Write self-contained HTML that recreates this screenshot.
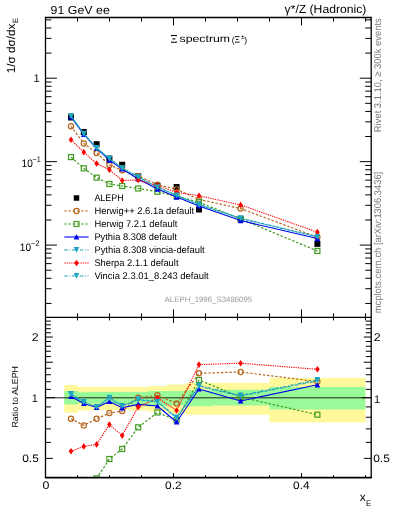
<!DOCTYPE html>
<html><head><meta charset="utf-8"><style>
html,body{margin:0;padding:0;background:#fff;width:393px;height:512px;overflow:hidden;}
body{position:relative;font-family:"Liberation Sans",sans-serif;}
svg text{text-rendering:geometricPrecision;}
</style></head><body>
<svg width="393" height="512" viewBox="0 0 393 512" style="position:absolute;left:0;top:0;will-change:transform">
<defs><clipPath id="cm"><rect x="45.5" y="17.5" width="325.7" height="299.9"/></clipPath><clipPath id="cr"><rect x="45.5" y="317.4" width="325.7" height="160.3"/></clipPath></defs>
<path d="M64.2 385.1H77.9V387.0H90.2V387.1H103.0V387.1H115.8V387.1H128.6V387.1H147.8V385.9H167.0V384.4H186.2V383.0H211.8V383.0H269.4V377.9H365.4V422.6H269.4V414.7H211.8V414.8H186.2V413.7H167.0V411.5H147.8V410.5H128.6V410.0H115.8V410.0H103.0V410.0H90.2V410.4H77.9V412.8H64.2Z" fill="#fff99b"/>
<path d="M64.2 390.9H77.9V392.2H90.2V392.0H103.0V392.0H115.8V392.0H128.6V392.0H147.8V391.0H167.0V390.9H186.2V390.3H211.8V389.7H269.4V387.1H365.4V409.6H269.4V405.4H211.8V406.3H186.2V405.6H167.0V406.3H147.8V404.9H128.6V403.4H115.8V403.4H103.0V403.4H90.2V403.3H77.9V404.6H64.2Z" fill="#98fa98"/>
<line x1="45.5" y1="397.8" x2="371.2" y2="397.8" stroke="#222" stroke-width="1"/>
<g clip-path="url(#cm)">
<rect x="68.00" y="114.50" width="6" height="6" fill="#000"/>
<rect x="80.80" y="129.00" width="6" height="6" fill="#000"/>
<rect x="93.60" y="141.20" width="6" height="6" fill="#000"/>
<rect x="106.40" y="155.60" width="6" height="6" fill="#000"/>
<rect x="119.20" y="161.75" width="6" height="6" fill="#000"/>
<rect x="135.20" y="173.20" width="6" height="6" fill="#000"/>
<rect x="154.40" y="182.60" width="6" height="6" fill="#000"/>
<rect x="173.60" y="184.00" width="6" height="6" fill="#000"/>
<rect x="196.00" y="206.50" width="6" height="6" fill="#000"/>
<rect x="237.60" y="216.20" width="6" height="6" fill="#000"/>
<rect x="314.40" y="240.90" width="6" height="6" fill="#000"/>
</g>
<g clip-path="url(#cm)">
<polyline points="71.00,126.20 83.80,143.47 96.60,152.94 109.40,164.94 122.20,170.30 138.20,176.20 157.40,184.61 176.60,189.36 199.00,199.39 240.60,208.56 317.40,237.23" fill="none" stroke="#b5651d" stroke-width="1.2" stroke-dasharray="2.4 1.8" stroke-linejoin="round"/>
<circle cx="71.00" cy="126.20" r="2.6" fill="none" stroke="#b5651d" stroke-width="1.2"/>
<circle cx="83.80" cy="143.47" r="2.6" fill="none" stroke="#b5651d" stroke-width="1.2"/>
<circle cx="96.60" cy="152.94" r="2.6" fill="none" stroke="#b5651d" stroke-width="1.2"/>
<circle cx="109.40" cy="164.94" r="2.6" fill="none" stroke="#b5651d" stroke-width="1.2"/>
<circle cx="122.20" cy="170.30" r="2.6" fill="none" stroke="#b5651d" stroke-width="1.2"/>
<circle cx="138.20" cy="176.20" r="2.6" fill="none" stroke="#b5651d" stroke-width="1.2"/>
<circle cx="157.40" cy="184.61" r="2.6" fill="none" stroke="#b5651d" stroke-width="1.2"/>
<circle cx="176.60" cy="189.36" r="2.6" fill="none" stroke="#b5651d" stroke-width="1.2"/>
<circle cx="199.00" cy="199.39" r="2.6" fill="none" stroke="#b5651d" stroke-width="1.2"/>
<circle cx="240.60" cy="208.56" r="2.6" fill="none" stroke="#b5651d" stroke-width="1.2"/>
<circle cx="317.40" cy="237.23" r="2.6" fill="none" stroke="#b5651d" stroke-width="1.2"/>
</g>
<g clip-path="url(#cm)">
<polyline points="71.00,157.10 83.80,168.30 96.60,177.60 109.40,183.99 122.20,186.00 138.20,188.46 157.40,191.73 176.60,196.24 199.00,202.17 240.60,218.91 317.40,250.94" fill="none" stroke="#3f9b1f" stroke-width="1.2" stroke-dasharray="2.4 1.8" stroke-linejoin="round"/>
<rect x="68.50" y="154.60" width="5" height="5" fill="none" stroke="#3f9b1f" stroke-width="1.2"/>
<rect x="81.30" y="165.80" width="5" height="5" fill="none" stroke="#3f9b1f" stroke-width="1.2"/>
<rect x="94.10" y="175.10" width="5" height="5" fill="none" stroke="#3f9b1f" stroke-width="1.2"/>
<rect x="106.90" y="181.49" width="5" height="5" fill="none" stroke="#3f9b1f" stroke-width="1.2"/>
<rect x="119.70" y="183.50" width="5" height="5" fill="none" stroke="#3f9b1f" stroke-width="1.2"/>
<rect x="135.70" y="185.96" width="5" height="5" fill="none" stroke="#3f9b1f" stroke-width="1.2"/>
<rect x="154.90" y="189.23" width="5" height="5" fill="none" stroke="#3f9b1f" stroke-width="1.2"/>
<rect x="174.10" y="193.74" width="5" height="5" fill="none" stroke="#3f9b1f" stroke-width="1.2"/>
<rect x="196.50" y="199.67" width="5" height="5" fill="none" stroke="#3f9b1f" stroke-width="1.2"/>
<rect x="238.10" y="216.41" width="5" height="5" fill="none" stroke="#3f9b1f" stroke-width="1.2"/>
<rect x="314.90" y="248.44" width="5" height="5" fill="none" stroke="#3f9b1f" stroke-width="1.2"/>
</g>
<g clip-path="url(#cm)">
<polyline points="71.00,117.00 83.80,134.40 96.60,148.26 109.40,160.17 122.20,168.93 138.20,178.97 157.40,189.04 176.60,197.06 199.00,205.90 240.60,220.57 317.40,238.56" fill="none" stroke="#0000ee" stroke-width="1.1" stroke-linejoin="round"/>
<path d="M71.00 113.90L73.80 119.60L68.20 119.60Z" fill="#0000ee"/>
<path d="M83.80 131.30L86.60 137.00L81.00 137.00Z" fill="#0000ee"/>
<path d="M96.60 145.16L99.40 150.86L93.80 150.86Z" fill="#0000ee"/>
<path d="M109.40 157.07L112.20 162.77L106.60 162.77Z" fill="#0000ee"/>
<path d="M122.20 165.83L125.00 171.53L119.40 171.53Z" fill="#0000ee"/>
<path d="M138.20 175.87L141.00 181.57L135.40 181.57Z" fill="#0000ee"/>
<path d="M157.40 185.94L160.20 191.64L154.60 191.64Z" fill="#0000ee"/>
<path d="M176.60 193.96L179.40 199.66L173.80 199.66Z" fill="#0000ee"/>
<path d="M199.00 202.80L201.80 208.50L196.20 208.50Z" fill="#0000ee"/>
<path d="M240.60 217.47L243.40 223.17L237.80 223.17Z" fill="#0000ee"/>
<path d="M317.40 235.46L320.20 241.16L314.60 241.16Z" fill="#0000ee"/>
</g>
<g clip-path="url(#cm)">
<polyline points="71.00,115.88 83.80,133.70 96.60,147.97 109.40,158.56 122.20,168.10 138.20,176.82 157.40,187.17 176.60,195.20 199.00,204.45 240.60,218.29 317.40,236.57" fill="none" stroke="#1f9fbf" stroke-width="1.2" stroke-dasharray="3.6 1.6 0.9 1.6" stroke-linejoin="round"/>
<path d="M68.20 112.98L73.80 112.98L71.00 118.68Z" fill="#1f9fbf"/>
<path d="M81.00 130.80L86.60 130.80L83.80 136.50Z" fill="#1f9fbf"/>
<path d="M93.80 145.07L99.40 145.07L96.60 150.77Z" fill="#1f9fbf"/>
<path d="M106.60 155.66L112.20 155.66L109.40 161.36Z" fill="#1f9fbf"/>
<path d="M119.40 165.20L125.00 165.20L122.20 170.90Z" fill="#1f9fbf"/>
<path d="M135.40 173.92L141.00 173.92L138.20 179.62Z" fill="#1f9fbf"/>
<path d="M154.60 184.27L160.20 184.27L157.40 189.97Z" fill="#1f9fbf"/>
<path d="M173.80 192.30L179.40 192.30L176.60 198.00Z" fill="#1f9fbf"/>
<path d="M196.20 201.55L201.80 201.55L199.00 207.25Z" fill="#1f9fbf"/>
<path d="M237.80 215.39L243.40 215.39L240.60 221.09Z" fill="#1f9fbf"/>
<path d="M314.60 233.67L320.20 233.67L317.40 239.37Z" fill="#1f9fbf"/>
</g>
<g clip-path="url(#cm)">
<polyline points="71.00,139.70 83.80,152.17 96.60,163.54 109.40,169.74 122.20,180.45 138.20,180.05 157.40,185.64 176.60,192.30 199.00,195.79 240.60,204.91 317.40,232.14" fill="none" stroke="#ff0000" stroke-width="1.1" stroke-dasharray="1.3 1.0" stroke-linejoin="round"/>
<path d="M71.00 136.40L73.30 139.70L71.00 143.00L68.70 139.70Z" fill="#ff0000"/>
<path d="M83.80 148.87L86.10 152.17L83.80 155.47L81.50 152.17Z" fill="#ff0000"/>
<path d="M96.60 160.24L98.90 163.54L96.60 166.84L94.30 163.54Z" fill="#ff0000"/>
<path d="M109.40 166.44L111.70 169.74L109.40 173.04L107.10 169.74Z" fill="#ff0000"/>
<path d="M122.20 177.15L124.50 180.45L122.20 183.75L119.90 180.45Z" fill="#ff0000"/>
<path d="M138.20 176.75L140.50 180.05L138.20 183.35L135.90 180.05Z" fill="#ff0000"/>
<path d="M157.40 182.34L159.70 185.64L157.40 188.94L155.10 185.64Z" fill="#ff0000"/>
<path d="M176.60 189.00L178.90 192.30L176.60 195.60L174.30 192.30Z" fill="#ff0000"/>
<path d="M199.00 192.49L201.30 195.79L199.00 199.09L196.70 195.79Z" fill="#ff0000"/>
<path d="M240.60 201.61L242.90 204.91L240.60 208.21L238.30 204.91Z" fill="#ff0000"/>
<path d="M317.40 228.84L319.70 232.14L317.40 235.44L315.10 232.14Z" fill="#ff0000"/>
</g>
<g clip-path="url(#cm)">
<polyline points="71.00,116.22 83.80,133.91 96.60,148.18 109.40,158.72 122.20,168.31 138.20,177.07 157.40,187.38 176.60,195.41 199.00,204.86 240.60,218.50 317.40,236.98" fill="none" stroke="#1fa9bf" stroke-width="1.2" stroke-dasharray="3.6 1.6 0.9 1.6" stroke-dashoffset="4.0" stroke-linejoin="round"/>
<path d="M68.20 113.32L73.80 113.32L71.00 119.02Z" fill="#1fa9bf"/>
<path d="M81.00 131.01L86.60 131.01L83.80 136.71Z" fill="#1fa9bf"/>
<path d="M93.80 145.28L99.40 145.28L96.60 150.98Z" fill="#1fa9bf"/>
<path d="M106.60 155.82L112.20 155.82L109.40 161.52Z" fill="#1fa9bf"/>
<path d="M119.40 165.41L125.00 165.41L122.20 171.11Z" fill="#1fa9bf"/>
<path d="M135.40 174.17L141.00 174.17L138.20 179.87Z" fill="#1fa9bf"/>
<path d="M154.60 184.48L160.20 184.48L157.40 190.18Z" fill="#1fa9bf"/>
<path d="M173.80 192.51L179.40 192.51L176.60 198.21Z" fill="#1fa9bf"/>
<path d="M196.20 201.96L201.80 201.96L199.00 207.66Z" fill="#1fa9bf"/>
<path d="M237.80 215.60L243.40 215.60L240.60 221.30Z" fill="#1fa9bf"/>
<path d="M314.60 234.08L320.20 234.08L317.40 239.78Z" fill="#1fa9bf"/>
</g>
<g clip-path="url(#cr)">
<polyline points="71.00,418.70 83.80,425.40 96.60,418.80 109.40,413.00 122.20,411.10 138.20,397.70 157.40,395.30 176.60,403.40 199.00,373.30 240.60,372.00 317.40,381.60" fill="none" stroke="#b5651d" stroke-width="1.2" stroke-dasharray="2.4 1.8" stroke-linejoin="round"/>
<circle cx="71.00" cy="418.70" r="2.6" fill="none" stroke="#b5651d" stroke-width="1.2"/>
<circle cx="83.80" cy="425.40" r="2.6" fill="none" stroke="#b5651d" stroke-width="1.2"/>
<circle cx="96.60" cy="418.80" r="2.6" fill="none" stroke="#b5651d" stroke-width="1.2"/>
<circle cx="109.40" cy="413.00" r="2.6" fill="none" stroke="#b5651d" stroke-width="1.2"/>
<circle cx="122.20" cy="411.10" r="2.6" fill="none" stroke="#b5651d" stroke-width="1.2"/>
<circle cx="138.20" cy="397.70" r="2.6" fill="none" stroke="#b5651d" stroke-width="1.2"/>
<circle cx="157.40" cy="395.30" r="2.6" fill="none" stroke="#b5651d" stroke-width="1.2"/>
<circle cx="176.60" cy="403.40" r="2.6" fill="none" stroke="#b5651d" stroke-width="1.2"/>
<circle cx="199.00" cy="373.30" r="2.6" fill="none" stroke="#b5651d" stroke-width="1.2"/>
<circle cx="240.60" cy="372.00" r="2.6" fill="none" stroke="#b5651d" stroke-width="1.2"/>
<circle cx="317.40" cy="381.60" r="2.6" fill="none" stroke="#b5651d" stroke-width="1.2"/>
</g>
<g clip-path="url(#cr)">
<polyline points="71.00,493.32 83.80,485.35 96.60,478.35 109.40,459.00 122.20,449.00 138.20,427.30 157.40,412.50 176.60,420.00 199.00,380.00 240.60,397.00 317.40,414.70" fill="none" stroke="#3f9b1f" stroke-width="1.2" stroke-dasharray="2.4 1.8" stroke-linejoin="round"/>
<rect x="68.50" y="490.82" width="5" height="5" fill="none" stroke="#3f9b1f" stroke-width="1.2"/>
<rect x="81.30" y="482.85" width="5" height="5" fill="none" stroke="#3f9b1f" stroke-width="1.2"/>
<rect x="94.10" y="475.85" width="5" height="5" fill="none" stroke="#3f9b1f" stroke-width="1.2"/>
<rect x="106.90" y="456.50" width="5" height="5" fill="none" stroke="#3f9b1f" stroke-width="1.2"/>
<rect x="119.70" y="446.50" width="5" height="5" fill="none" stroke="#3f9b1f" stroke-width="1.2"/>
<rect x="135.70" y="424.80" width="5" height="5" fill="none" stroke="#3f9b1f" stroke-width="1.2"/>
<rect x="154.90" y="410.00" width="5" height="5" fill="none" stroke="#3f9b1f" stroke-width="1.2"/>
<rect x="174.10" y="417.50" width="5" height="5" fill="none" stroke="#3f9b1f" stroke-width="1.2"/>
<rect x="196.50" y="377.50" width="5" height="5" fill="none" stroke="#3f9b1f" stroke-width="1.2"/>
<rect x="238.10" y="394.50" width="5" height="5" fill="none" stroke="#3f9b1f" stroke-width="1.2"/>
<rect x="314.90" y="412.20" width="5" height="5" fill="none" stroke="#3f9b1f" stroke-width="1.2"/>
</g>
<g clip-path="url(#cr)">
<polyline points="71.00,396.50 83.80,403.50 96.60,407.50 109.40,401.50 122.20,407.80 138.20,404.40 157.40,406.00 176.60,422.00 199.00,389.00 240.60,401.00 317.40,384.80" fill="none" stroke="#0000ee" stroke-width="1.1" stroke-linejoin="round"/>
<path d="M71.00 393.40L73.80 399.10L68.20 399.10Z" fill="#0000ee"/>
<path d="M83.80 400.40L86.60 406.10L81.00 406.10Z" fill="#0000ee"/>
<path d="M96.60 404.40L99.40 410.10L93.80 410.10Z" fill="#0000ee"/>
<path d="M109.40 398.40L112.20 404.10L106.60 404.10Z" fill="#0000ee"/>
<path d="M122.20 404.70L125.00 410.40L119.40 410.40Z" fill="#0000ee"/>
<path d="M138.20 401.30L141.00 407.00L135.40 407.00Z" fill="#0000ee"/>
<path d="M157.40 402.90L160.20 408.60L154.60 408.60Z" fill="#0000ee"/>
<path d="M176.60 418.90L179.40 424.60L173.80 424.60Z" fill="#0000ee"/>
<path d="M199.00 385.90L201.80 391.60L196.20 391.60Z" fill="#0000ee"/>
<path d="M240.60 397.90L243.40 403.60L237.80 403.60Z" fill="#0000ee"/>
<path d="M317.40 381.70L320.20 387.40L314.60 387.40Z" fill="#0000ee"/>
</g>
<g clip-path="url(#cr)">
<polyline points="71.00,393.80 83.80,401.80 96.60,406.80 109.40,397.60 122.20,405.80 138.20,399.20 157.40,401.50 176.60,417.50 199.00,385.50 240.60,395.50 317.40,380.00" fill="none" stroke="#1f9fbf" stroke-width="1.2" stroke-dasharray="3.6 1.6 0.9 1.6" stroke-linejoin="round"/>
<path d="M68.20 390.90L73.80 390.90L71.00 396.60Z" fill="#1f9fbf"/>
<path d="M81.00 398.90L86.60 398.90L83.80 404.60Z" fill="#1f9fbf"/>
<path d="M93.80 403.90L99.40 403.90L96.60 409.60Z" fill="#1f9fbf"/>
<path d="M106.60 394.70L112.20 394.70L109.40 400.40Z" fill="#1f9fbf"/>
<path d="M119.40 402.90L125.00 402.90L122.20 408.60Z" fill="#1f9fbf"/>
<path d="M135.40 396.30L141.00 396.30L138.20 402.00Z" fill="#1f9fbf"/>
<path d="M154.60 398.60L160.20 398.60L157.40 404.30Z" fill="#1f9fbf"/>
<path d="M173.80 414.60L179.40 414.60L176.60 420.30Z" fill="#1f9fbf"/>
<path d="M196.20 382.60L201.80 382.60L199.00 388.30Z" fill="#1f9fbf"/>
<path d="M237.80 392.60L243.40 392.60L240.60 398.30Z" fill="#1f9fbf"/>
<path d="M314.60 377.10L320.20 377.10L317.40 382.80Z" fill="#1f9fbf"/>
</g>
<g clip-path="url(#cr)">
<polyline points="71.00,451.30 83.80,446.40 96.60,444.40 109.40,424.60 122.20,435.60 138.20,407.00 157.40,397.80 176.60,410.50 199.00,364.60 240.60,363.20 317.40,369.30" fill="none" stroke="#ff0000" stroke-width="1.1" stroke-dasharray="1.3 1.0" stroke-linejoin="round"/>
<path d="M71.00 448.00L73.30 451.30L71.00 454.60L68.70 451.30Z" fill="#ff0000"/>
<path d="M83.80 443.10L86.10 446.40L83.80 449.70L81.50 446.40Z" fill="#ff0000"/>
<path d="M96.60 441.10L98.90 444.40L96.60 447.70L94.30 444.40Z" fill="#ff0000"/>
<path d="M109.40 421.30L111.70 424.60L109.40 427.90L107.10 424.60Z" fill="#ff0000"/>
<path d="M122.20 432.30L124.50 435.60L122.20 438.90L119.90 435.60Z" fill="#ff0000"/>
<path d="M138.20 403.70L140.50 407.00L138.20 410.30L135.90 407.00Z" fill="#ff0000"/>
<path d="M157.40 394.50L159.70 397.80L157.40 401.10L155.10 397.80Z" fill="#ff0000"/>
<path d="M176.60 407.20L178.90 410.50L176.60 413.80L174.30 410.50Z" fill="#ff0000"/>
<path d="M199.00 361.30L201.30 364.60L199.00 367.90L196.70 364.60Z" fill="#ff0000"/>
<path d="M240.60 359.90L242.90 363.20L240.60 366.50L238.30 363.20Z" fill="#ff0000"/>
<path d="M317.40 366.00L319.70 369.30L317.40 372.60L315.10 369.30Z" fill="#ff0000"/>
</g>
<g clip-path="url(#cr)">
<polyline points="71.00,394.60 83.80,402.30 96.60,407.30 109.40,398.00 122.20,406.30 138.20,399.80 157.40,402.00 176.60,418.00 199.00,386.50 240.60,396.00 317.40,381.00" fill="none" stroke="#1fa9bf" stroke-width="1.2" stroke-dasharray="3.6 1.6 0.9 1.6" stroke-dashoffset="4.0" stroke-linejoin="round"/>
<path d="M68.20 391.70L73.80 391.70L71.00 397.40Z" fill="#1fa9bf"/>
<path d="M81.00 399.40L86.60 399.40L83.80 405.10Z" fill="#1fa9bf"/>
<path d="M93.80 404.40L99.40 404.40L96.60 410.10Z" fill="#1fa9bf"/>
<path d="M106.60 395.10L112.20 395.10L109.40 400.80Z" fill="#1fa9bf"/>
<path d="M119.40 403.40L125.00 403.40L122.20 409.10Z" fill="#1fa9bf"/>
<path d="M135.40 396.90L141.00 396.90L138.20 402.60Z" fill="#1fa9bf"/>
<path d="M154.60 399.10L160.20 399.10L157.40 404.80Z" fill="#1fa9bf"/>
<path d="M173.80 415.10L179.40 415.10L176.60 420.80Z" fill="#1fa9bf"/>
<path d="M196.20 383.60L201.80 383.60L199.00 389.30Z" fill="#1fa9bf"/>
<path d="M237.80 393.10L243.40 393.10L240.60 398.80Z" fill="#1fa9bf"/>
<path d="M314.60 378.10L320.20 378.10L317.40 383.80Z" fill="#1fa9bf"/>
</g>
<path d="M45.5 477.7V17.5H371.2V477.7 M45.5 317.4H371.2" fill="none" stroke="#000" stroke-width="1.3"/>
<path d="M44.85 477.7H371.84999999999997" fill="none" stroke="#000" stroke-width="1.7"/>
<path d="M45.50 17.5v8M45.50 317.4v-8M45.50 317.4v5.5M45.50 477.7v-4.7M77.50 17.5v4M77.50 317.4v-4M77.50 317.4v3M77.50 477.7v-2.5M109.50 17.5v4M109.50 317.4v-4M109.50 317.4v3M109.50 477.7v-2.5M141.50 17.5v4M141.50 317.4v-4M141.50 317.4v3M141.50 477.7v-2.5M173.50 17.5v8M173.50 317.4v-8M173.50 317.4v5.5M173.50 477.7v-4.7M205.50 17.5v4M205.50 317.4v-4M205.50 317.4v3M205.50 477.7v-2.5M237.50 17.5v4M237.50 317.4v-4M237.50 317.4v3M237.50 477.7v-2.5M269.50 17.5v4M269.50 317.4v-4M269.50 317.4v3M269.50 477.7v-2.5M301.50 17.5v8M301.50 317.4v-8M301.50 317.4v5.5M301.50 477.7v-4.7M333.50 17.5v4M333.50 317.4v-4M333.50 317.4v3M333.50 477.7v-2.5M365.50 17.5v4M365.50 317.4v-4M365.50 317.4v3M365.50 477.7v-2.5M45.5 303.43h6M371.2 303.43h-6M45.5 288.73h6M371.2 288.73h-6M45.5 278.31h6M371.2 278.31h-6M45.5 270.22h6M371.2 270.22h-6M45.5 263.61h6M371.2 263.61h-6M45.5 258.03h6M371.2 258.03h-6M45.5 253.19h6M371.2 253.19h-6M45.5 248.92h6M371.2 248.92h-6M45.5 245.10h11.4M371.2 245.10h-11.4M45.5 219.98h6M371.2 219.98h-6M45.5 205.28h6M371.2 205.28h-6M45.5 194.86h6M371.2 194.86h-6M45.5 186.77h6M371.2 186.77h-6M45.5 180.16h6M371.2 180.16h-6M45.5 174.58h6M371.2 174.58h-6M45.5 169.74h6M371.2 169.74h-6M45.5 165.47h6M371.2 165.47h-6M45.5 161.65h11.4M371.2 161.65h-11.4M45.5 136.53h6M371.2 136.53h-6M45.5 121.83h6M371.2 121.83h-6M45.5 111.41h6M371.2 111.41h-6M45.5 103.32h6M371.2 103.32h-6M45.5 96.71h6M371.2 96.71h-6M45.5 91.13h6M371.2 91.13h-6M45.5 86.29h6M371.2 86.29h-6M45.5 82.02h6M371.2 82.02h-6M45.5 78.20h11.4M371.2 78.20h-11.4M45.5 53.08h6M371.2 53.08h-6M45.5 38.38h6M371.2 38.38h-6M45.5 27.96h6M371.2 27.96h-6M45.5 19.87h6M371.2 19.87h-6M45.5 458.36h7.4M371.2 458.36h-7.4M45.5 442.40h5.4M371.2 442.40h-5.4M45.5 428.91h5.4M371.2 428.91h-5.4M45.5 417.23h5.4M371.2 417.23h-5.4M45.5 406.92h5.4M371.2 406.92h-5.4M45.5 397.70h9.6M371.2 397.70h-9.6M45.5 389.36h5.4M371.2 389.36h-5.4M45.5 381.74h5.4M371.2 381.74h-5.4M45.5 374.74h5.4M371.2 374.74h-5.4M45.5 368.26h5.4M371.2 368.26h-5.4M45.5 362.22h7.4M371.2 362.22h-7.4M45.5 356.57h5.4M371.2 356.57h-5.4M45.5 351.26h5.4M371.2 351.26h-5.4M45.5 346.26h5.4M371.2 346.26h-5.4M45.5 341.53h5.4M371.2 341.53h-5.4M45.5 337.04h7.4M371.2 337.04h-7.4M45.5 332.77h5.4M371.2 332.77h-5.4M45.5 328.70h5.4M371.2 328.70h-5.4M45.5 324.81h5.4M371.2 324.81h-5.4M45.5 321.09h5.4M371.2 321.09h-5.4" fill="none" stroke="#000" stroke-width="1"/>
<text x="50.6" y="13.7" font-family="Liberation Sans, sans-serif" font-size="11.6" fill="#000" textLength="59.2" lengthAdjust="spacingAndGlyphs">91 GeV ee</text>
<text x="284.6" y="13.3" font-family="Liberation Sans, sans-serif" font-size="11.8" fill="#000" textLength="81.7" lengthAdjust="spacingAndGlyphs">γ*/Z (Hadronic)</text>
<text x="39.6" y="81.8" font-family="Liberation Sans, sans-serif" font-size="11.0" fill="#000" text-anchor="end">1</text>
<text x="21.6" y="167.3" font-family="Liberation Sans, sans-serif" font-size="10.8" fill="#000" textLength="11.2" lengthAdjust="spacingAndGlyphs">10</text>
<text x="32.6" y="162.0" font-family="Liberation Sans, sans-serif" font-size="8" fill="#000" textLength="8.2" lengthAdjust="spacingAndGlyphs">−1</text>
<text x="19.8" y="250.8" font-family="Liberation Sans, sans-serif" font-size="10.8" fill="#000" textLength="11.2" lengthAdjust="spacingAndGlyphs">10</text>
<text x="30.8" y="245.5" font-family="Liberation Sans, sans-serif" font-size="8" fill="#000" textLength="8.8" lengthAdjust="spacingAndGlyphs">−2</text>
<text x="38.7" y="340.9" font-family="Liberation Sans, sans-serif" font-size="11.2" fill="#000" textLength="6.9" lengthAdjust="spacingAndGlyphs" text-anchor="end">2</text>
<text x="37.9" y="402.0" font-family="Liberation Sans, sans-serif" font-size="11.0" fill="#000" text-anchor="end">1</text>
<text x="38.8" y="461.9" font-family="Liberation Sans, sans-serif" font-size="10.8" fill="#000" textLength="16.6" lengthAdjust="spacingAndGlyphs" text-anchor="end">0.5</text>
<text x="373.7" y="340.9" font-family="Liberation Sans, sans-serif" font-size="11.2" fill="#000" textLength="6.9" lengthAdjust="spacingAndGlyphs">2</text>
<text x="374.0" y="403.0" font-family="Liberation Sans, sans-serif" font-size="11.0" fill="#000">1</text>
<text x="373.2" y="462.0" font-family="Liberation Sans, sans-serif" font-size="10.8" fill="#000" textLength="16.6" lengthAdjust="spacingAndGlyphs">0.5</text>
<text x="46.0" y="488.8" font-family="Liberation Sans, sans-serif" font-size="11.2" fill="#000" textLength="6.9" lengthAdjust="spacingAndGlyphs" text-anchor="middle">0</text>
<text x="173.4" y="489.0" font-family="Liberation Sans, sans-serif" font-size="10.8" fill="#000" textLength="16.6" lengthAdjust="spacingAndGlyphs" text-anchor="middle">0.2</text>
<text x="301.4" y="489.0" font-family="Liberation Sans, sans-serif" font-size="10.8" fill="#000" textLength="16.6" lengthAdjust="spacingAndGlyphs" text-anchor="middle">0.4</text>
<text x="359.8" y="501.0" font-family="Liberation Sans, sans-serif" font-size="12" fill="#000">x</text>
<text x="366.0" y="506.0" font-family="Liberation Sans, sans-serif" font-size="8" fill="#000">E</text>
<g transform="translate(14.9,73.2) rotate(-90)"><text x="0" y="0" font-family="Liberation Sans, sans-serif" font-size="11.6" fill="#000" textLength="49.6" lengthAdjust="spacingAndGlyphs">1/σ dσ/dx</text><text x="50.2" y="3.4" font-family="Liberation Sans, sans-serif" font-size="7.6" fill="#000">E</text></g>
<g transform="translate(17.8,427.6) rotate(-90)"><text x="0" y="0" font-family="Liberation Sans, sans-serif" font-size="8.8" fill="#000" textLength="61.6" lengthAdjust="spacingAndGlyphs">Ratio to ALEPH</text></g>
<g transform="translate(380.8,132.2) rotate(-90)"><text x="0" y="0" font-family="Liberation Sans, sans-serif" font-size="9.8" fill="#777" textLength="114" lengthAdjust="spacingAndGlyphs">Rivet 3.1.10, ≥ 300k events</text></g>
<g transform="translate(381.0,313.2) rotate(-90)"><text x="0" y="0" font-family="Liberation Sans, sans-serif" font-size="9.8" fill="#777" textLength="141.4" lengthAdjust="spacingAndGlyphs">mcplots.cern.ch [arXiv:1306.3436]</text></g>
<path d="M171.0 35.5H176.9M171.0 42.3H176.9M172.593 38.9H175.30700000000002M171.525 35.5v0.8M176.375 35.5v0.8M171.525 42.3v-0.8M176.375 42.3v-0.8M173.118 38.339999999999996v1.1199999999999999M174.782 38.339999999999996v1.1199999999999999" fill="none" stroke="#000" stroke-width="1.05"/>
<text x="179.6" y="42.3" font-family="Liberation Sans, sans-serif" font-size="10" fill="#000" textLength="50.4" lengthAdjust="spacingAndGlyphs">spectrum</text>
<text x="231.7" y="43.0" font-family="Liberation Sans, sans-serif" font-size="8.6" fill="#000">(</text>
<path d="M235.0 36.6H239.4M235.0 42.2H239.4M236.188 39.400000000000006H238.21200000000002M235.425 36.6v0.5M238.975 36.6v0.5M235.425 42.2v-0.5M238.975 42.2v-0.5M236.613 39.050000000000004v0.7M237.787 39.050000000000004v0.7" fill="none" stroke="#000" stroke-width="0.85"/>
<text x="241.0" y="38.5" font-family="Liberation Sans, sans-serif" font-size="6.4" fill="#000">±</text>
<text x="244.2" y="43.0" font-family="Liberation Sans, sans-serif" font-size="8.6" fill="#000">)</text>
<text x="164.6" y="301.8" font-family="Liberation Sans, sans-serif" font-size="7.8" fill="#999" textLength="87.6" lengthAdjust="spacingAndGlyphs">ALEPH_1996_S3486095</text>
<rect x="73.75" y="195.25" width="5.5" height="5.5" fill="#000"/>
<text x="94.4" y="201.1" font-family="Liberation Sans, sans-serif" font-size="9.6" fill="#000" textLength="29.4" lengthAdjust="spacingAndGlyphs">ALEPH</text>
<line x1="64.3" y1="211.0" x2="88.6" y2="211.0" stroke="#b5651d" stroke-width="1.2" stroke-dasharray="2.4 1.8"/>
<circle cx="76.50" cy="211.00" r="2.6" fill="none" stroke="#b5651d" stroke-width="1.2"/>
<text x="94.4" y="214.1" font-family="Liberation Sans, sans-serif" font-size="9.6" fill="#000" textLength="99.8" lengthAdjust="spacingAndGlyphs">Herwig++ 2.6.1a default</text>
<line x1="64.3" y1="224.0" x2="88.6" y2="224.0" stroke="#3f9b1f" stroke-width="1.2" stroke-dasharray="2.4 1.8"/>
<rect x="74.00" y="221.50" width="5" height="5" fill="none" stroke="#3f9b1f" stroke-width="1.2"/>
<text x="94.4" y="227.1" font-family="Liberation Sans, sans-serif" font-size="9.6" fill="#000" textLength="83.0" lengthAdjust="spacingAndGlyphs">Herwig 7.2.1 default</text>
<line x1="64.3" y1="237.0" x2="88.6" y2="237.0" stroke="#0000ee" stroke-width="1.1"/>
<path d="M76.50 233.90L79.30 239.60L73.70 239.60Z" fill="#0000ee"/>
<text x="94.4" y="240.1" font-family="Liberation Sans, sans-serif" font-size="9.6" fill="#000" textLength="82.5" lengthAdjust="spacingAndGlyphs">Pythia 8.308 default</text>
<line x1="64.3" y1="250.0" x2="88.6" y2="250.0" stroke="#1f9fbf" stroke-width="1.2" stroke-dasharray="3.6 1.6 0.9 1.6"/>
<path d="M73.70 247.10L79.30 247.10L76.50 252.80Z" fill="#1f9fbf"/>
<text x="94.4" y="253.1" font-family="Liberation Sans, sans-serif" font-size="9.6" fill="#000" textLength="110.2" lengthAdjust="spacingAndGlyphs">Pythia 8.308 vincia-default</text>
<line x1="64.3" y1="263.0" x2="88.6" y2="263.0" stroke="#ff0000" stroke-width="1.1" stroke-dasharray="1.3 1.0"/>
<path d="M76.50 259.70L78.80 263.00L76.50 266.30L74.20 263.00Z" fill="#ff0000"/>
<text x="94.4" y="266.1" font-family="Liberation Sans, sans-serif" font-size="9.6" fill="#000" textLength="84.1" lengthAdjust="spacingAndGlyphs">Sherpa 2.1.1 default</text>
<line x1="64.3" y1="276.0" x2="88.6" y2="276.0" stroke="#1fa9bf" stroke-width="1.2" stroke-dasharray="3.6 1.6 0.9 1.6"/>
<path d="M73.70 273.10L79.30 273.10L76.50 278.80Z" fill="#1fa9bf"/>
<text x="94.4" y="279.1" font-family="Liberation Sans, sans-serif" font-size="9.6" fill="#000" textLength="114.3" lengthAdjust="spacingAndGlyphs">Vincia 2.3.01_8.243 default</text>
</svg>
</body></html>
